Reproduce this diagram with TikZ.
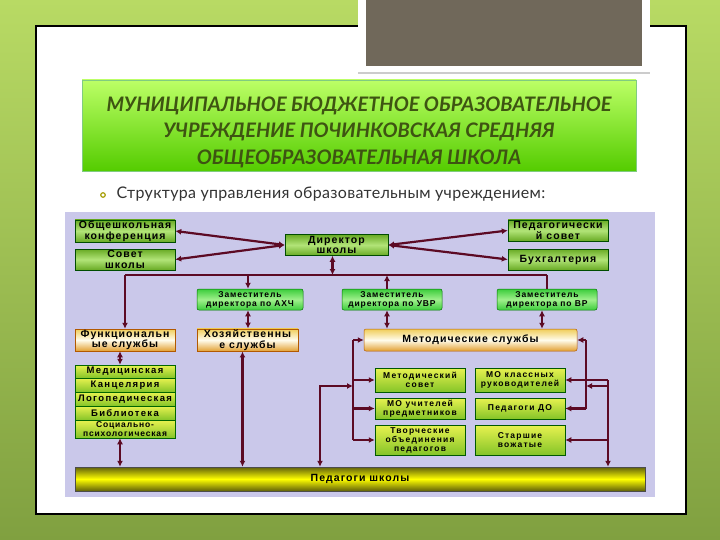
\documentclass[tikz,border=0pt]{standalone}
\usepackage{fontspec}
\setmainfont{Liberation Sans}
\newfontfamily\titlefont{Lato}
\newfontfamily\leadfont[LetterSpace=2]{Lato}
\newfontfamily\spacedfont[LetterSpace=10]{Liberation Sans}
\newfontfamily\widefont[LetterSpace=14]{Liberation Sans}
\usetikzlibrary{arrows.meta}

\definecolor{bglight}{RGB}{184,218,100}
\definecolor{bgdark}{RGB}{128,160,64}
\definecolor{panel}{RGB}{202,200,234}
\definecolor{linkred}{RGB}{92,10,36}
\definecolor{hdgreen}{RGB}{104,170,36}
\definecolor{hdlight}{RGB}{178,228,120}
\definecolor{zamgreen}{RGB}{60,205,60}
\definecolor{zamlight}{RGB}{160,240,140}
\definecolor{creamtop}{RGB}{240,205,90}
\definecolor{creammid}{RGB}{255,252,236}
\definecolor{creambot}{RGB}{226,160,50}
\definecolor{cellyel}{RGB}{232,242,80}
\definecolor{cellgrn}{RGB}{132,196,40}
\definecolor{barolive}{RGB}{96,96,10}
\definecolor{titlegreen}{RGB}{62,84,18}
\definecolor{placegray}{RGB}{112,104,90}

\tikzset{
	wire/.style={draw=linkred, line width=2.2pt},
	tip/.style={wire, -{Latex[length=6pt,width=6pt]}},
	twotip/.style={wire, {Latex[length=6pt,width=6pt]}-{Latex[length=6pt,width=6pt]}},
	headbox/.style={draw=green!30!black, line width=0.5pt, top color=hdgreen, bottom color=hdgreen, middle color=hdlight,
		minimum width=100pt, minimum height=21pt, inner sep=1pt, align=center,
		font=\spacedfont\bfseries\fontsize{10.5}{10.5}\selectfont},
	zambox/.style={draw=green!45!black, line width=0.5pt, rounded corners=2pt, top color=zamgreen, bottom color=zamgreen, middle color=zamlight,
		minimum width=100pt, minimum height=21pt, inner sep=1pt, align=center,
		font=\spacedfont\bfseries\fontsize{8.5}{9}\selectfont},
	servbox/.style={draw=orange!70!black, line width=0.5pt, top color=creamtop, bottom color=creambot, middle color=creammid,
		minimum width=100pt, minimum height=22pt, inner sep=1pt, align=center,
		font=\spacedfont\bfseries\fontsize{10.5}{10.5}\selectfont},
	cellbox/.style={draw=green!40!black, line width=0.5pt, top color=cellyel, bottom color=cellgrn,
		minimum width=100pt, inner sep=0pt, align=center,
		font=\widefont\bfseries\fontsize{9.5}{9.5}\selectfont},
	metbox/.style={draw=green!35!black, line width=0.5pt, top color=cellyel, bottom color=cellgrn,
		minimum width=90pt, inner sep=1pt, align=center,
		font=\widefont\bfseries\fontsize{8.5}{9}\selectfont},
}

\begin{document}
\begin{tikzpicture}[x=1pt,y=-1pt]
	\useasboundingbox (0,0) rectangle (720,540);

	% slide
	\shade[top color=bglight, bottom color=bgdark] (0,0) rectangle (720,540);
	\draw[fill=white, line width=1.2pt] (36,26) rectangle (686,514);
	\fill[white] (358,0) rectangle (650,74);
	\fill[black!20] (358,72) rectangle (650,74);
	\fill[placegray] (366,0) rectangle (642,66);

	\node[draw=green!60!black!50, top color=green!25!lime!60!white, bottom color=lime!55!green!80!black,
		minimum width=554pt, minimum height=91pt] (banner) at (359,125.5) {};
	\node[align=center, text=titlegreen, font=\titlefont\bfseries\itshape\fontsize{20}{26.5}\selectfont] (title) at (359,132)
		{МУНИЦИПАЛЬНОЕ БЮДЖЕТНОЕ ОБРАЗОВАТЕЛЬНОЕ\\УЧРЕЖДЕНИЕ ПОЧИНКОВСКАЯ СРЕДНЯЯ\\ОБЩЕОБРАЗОВАТЕЛЬНАЯ ШКОЛА};

	\node[circle, draw=olive!80!yellow, line width=1.2pt, inner sep=1.6pt] (dot) at (103,195) {};
	\node[anchor=west, text=black!80, font=\leadfont\fontsize{16}{17}\selectfont] (lead) at (113,194)
		{Структура управления образовательным учреждением:};

	\fill[panel] (65,212) rectangle (655,497);

	% upper level
	\node[headbox] (conf) at (125,231) {Общешкольная\\конференция};
	\node[headbox] (sovet) at (125,259.5) {Совет\\школы};
	\node[headbox, minimum width=103pt] (dir) at (336.5,245) {Директор\\школы};
	\node[headbox] (pedsov) at (558,230.5) {Педагогически\\й совет};
	\node[headbox] (buh) at (558,259.5) {Бухгалтерия};

	\node[zambox, minimum width=106pt] (zahch) at (250,299.5) {Заместитель\\директора по АХЧ};
	\node[zambox] (zuvr) at (392,299.5) {Заместитель\\директора по УВР};
	\node[zambox] (zvr) at (547,299.5) {Заместитель\\директора по ВР};

	\node[servbox] (func) at (125,340) {Функциональн\\ые службы};
	\node[servbox, minimum width=101pt] (hoz) at (247.5,340) {Хозяйственны\\е службы};
	\node[servbox, rounded corners=2pt, minimum width=213pt] (metsl) at (470.5,340) {Методические службы};

	\node[cellbox, minimum height=13pt] (med) at (125,371.5) {Медицинская};
	\node[cellbox, minimum height=14pt] (kanc) at (125,385) {Канцелярия};
	\node[cellbox, minimum height=14pt] (logo) at (125,399) {Логопедическая};
	\node[cellbox, minimum height=14pt] (bibl) at (125,413) {Библиотека};
	\node[cellbox, minimum height=18pt, font=\spacedfont\bfseries\fontsize{8.5}{8.5}\selectfont] (soc) at (125,429) {Социально-\\психологическая};

	\node[metbox, minimum height=24pt] (metsov) at (420,380) {Методический\\совет};
	\node[metbox, minimum height=21pt] (moucht) at (420,408.5) {МО учителей\\предметников};
	\node[metbox, minimum height=30pt] (tvor) at (420,440) {Творческие\\объединения\\педагогов};
	\node[metbox, minimum height=24pt] (mokl) at (520,380) {МО классных\\руководителей};
	\node[metbox, minimum height=21pt] (pedo) at (520,408.5) {Педагоги ДО};
	\node[metbox, minimum height=30pt] (starsh) at (520,440) {Старшие\\вожатые};

	\node[draw=black!70, line width=0.5pt, top color=barolive, bottom color=barolive, middle color=yellow,
		minimum width=570pt, minimum height=24pt, font=\spacedfont\bfseries\fontsize{10.5}{10.5}\selectfont] (ped) at (360,479) {Педагоги школы};

	% links
	\coordinate (busL) at (125,275);
	\coordinate (busR) at (547,275);
	\coordinate (ltop) at (353,340);
	\coordinate (lbot) at (353,440);
	\coordinate (lfeed) at (320,386);
	\coordinate (rtop) at (586,340);
	\coordinate (rbot) at (586,408.5);
	\coordinate (rfeed) at (608,380);

	\draw[twotip] (dir.west) -- (conf.east);
	\draw[twotip] (dir.west) -- (sovet.east);
	\draw[twotip] (dir.east) -- (pedsov.west);
	\draw[twotip] (dir.east) -- (buh.west);
	\draw[twotip] ([xshift=-4pt]dir.south) -- ([xshift=-4pt]dir.south |- busL);

	\draw[wire] (busL) -- (busR);
	\draw[tip] (busL) -- (func.north);
	\draw[tip] ([xshift=-2pt]zahch.north |- busL) -- ([xshift=-2pt]zahch.north);
	\draw[tip] ([xshift=-5pt]zuvr.north) -- ([xshift=-5pt]zuvr.north |- busL);
	\draw[wire] (zvr.north) -- (busR);

	\draw[twotip] ([xshift=-2pt]zahch.south) -- ([xshift=-2pt]zahch.south |- hoz.north);
	\draw[twotip] ([xshift=-5pt]zuvr.south) -- ([xshift=-5pt]zuvr.south |- metsl.north);
	\draw[twotip] ([xshift=-5pt]zvr.south) -- ([xshift=-5pt]zvr.south |- metsl.north);

	\draw[twotip] ([xshift=-5pt]func.south) -- ([xshift=-5pt]med.north);
	\draw[twotip] ([xshift=-5pt]soc.south) -- ([xshift=-5pt]soc.south |- ped.north);
	\draw[twotip] ([xshift=-5pt]hoz.south) -- ([xshift=-5pt]hoz.south |- ped.north);

	\draw[wire] (ltop) -- (lbot);
	\draw[tip] (ltop) -- (metsl.west);
	\draw[tip] (ltop |- metsov.west) -- (metsov.west);
	\draw[tip] (ltop |- moucht.west) -- (moucht.west);
	\draw[tip] (lbot) -- (tvor.west);
	\draw[twotip] (lfeed -| ltop) -- (lfeed) -- (lfeed |- ped.north);

	\draw[wire] (rtop) -- (rbot);
	\draw[tip] (rtop) -- (metsl.east);
	\draw[tip] (rbot) -- (pedo.east);
	\draw[tip] (rfeed) -- (mokl.east);
	\draw[tip] (rfeed) -- (rfeed |- ped.north);
	\draw[tip] (rfeed |- lfeed) -- (rtop |- lfeed);
	\draw[tip] (rfeed |- starsh.east) -- (starsh.east);
\end{tikzpicture}
\end{document}
